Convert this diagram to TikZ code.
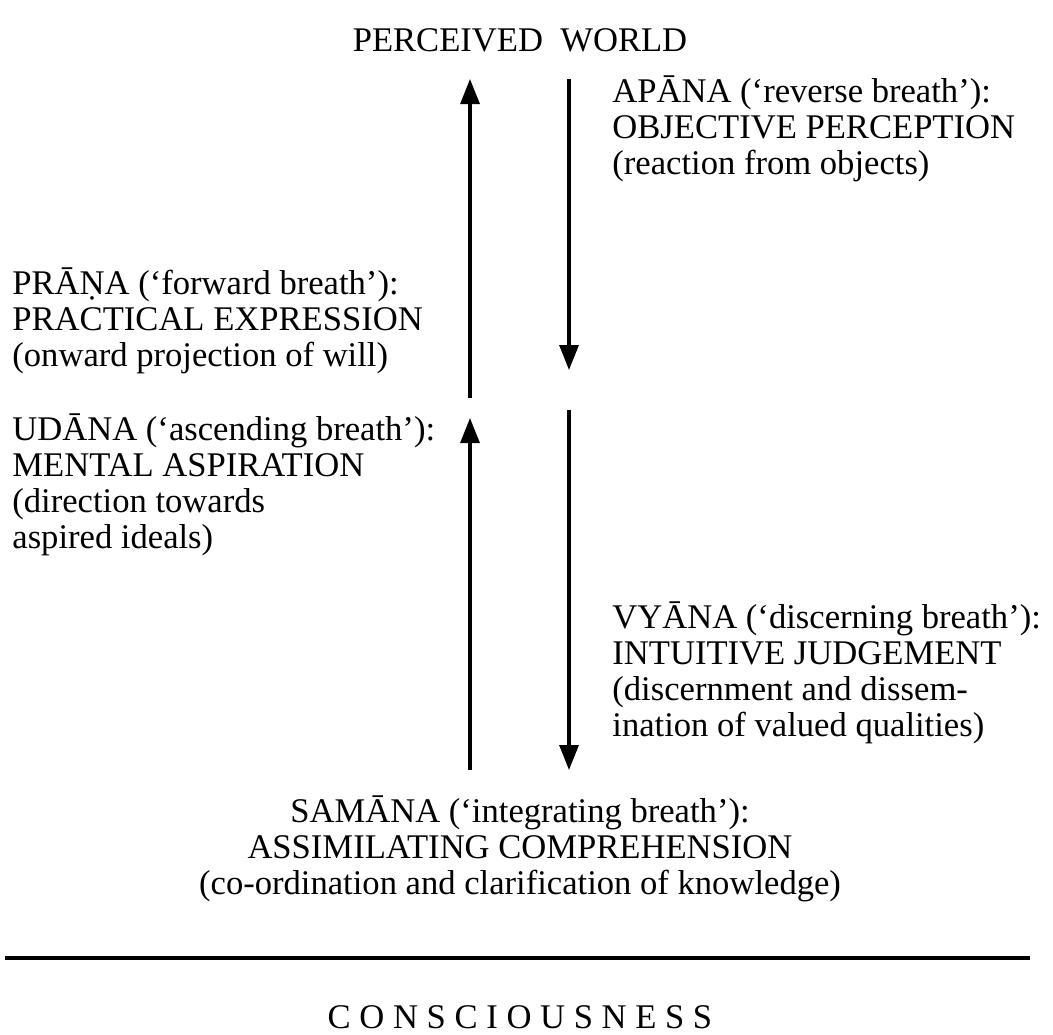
\documentclass[tikz,border=0pt]{standalone}
\usepackage{fontspec}
\setmainfont{Liberation Serif}
\usetikzlibrary{arrows.meta,positioning}

\begin{document}
\begin{tikzpicture}[x=0.5pt,y=-0.5pt,font=\fontsize{17.3}{18}\selectfont,
    >={Triangle[length=12.5pt,width=9.5pt]},
    flow/.style={line width=1.6pt,->},
    breath/.style={align=left,inner sep=0pt,anchor=north west},
    heading/.style={inner sep=0pt,anchor=base}]
  \useasboundingbox (0,0) rectangle (1053,1034);

  \node[heading] (world) at (520,51) {PERCEIVED\ \ WORLD};

  % upper pair of flows
  \coordinate (prana-s) at (470,398);
  \coordinate (prana-e) at (470,79);
  \coordinate (apana-s) at (569,79);
  \coordinate (apana-e) at (569,370);
  \draw[flow] (prana-s) -- (prana-e);
  \draw[flow] (apana-s) -- (apana-e);

  \node[breath] (apana) at (612,75)
    {APĀNA (‘reverse breath’):\\OBJECTIVE PERCEPTION\\(reaction from objects)};
  \node[breath] (prana) at (12,267)
    {PRĀṆA (‘forward breath’):\\PRACTICAL EXPRESSION\\(onward projection of will)};

  % lower pair of flows
  \coordinate (udana-s) at (470,770);
  \coordinate (udana-e) at (470,418);
  \coordinate (vyana-s) at (569,410);
  \coordinate (vyana-e) at (569,770);
  \draw[flow] (udana-s) -- (udana-e);
  \draw[flow] (vyana-s) -- (vyana-e);

  \node[breath] (udana) at (12,413)
    {UDĀNA (‘ascending breath’):\\MENTAL ASPIRATION\\(direction towards\\aspired ideals)};
  \node[breath] (vyana) at (612,601)
    {VYĀNA (‘discerning breath’):\\INTUITIVE JUDGEMENT\\(discernment and dissem-\\ination of valued qualities)};

  \node[breath,align=center,anchor=north] (samana) at (520,795)
    {SAMĀNA (‘integrating breath’):\\ASSIMILATING COMPREHENSION\\(co-ordination and clarification of knowledge)};

  \draw[line width=2pt] (5,958) -- (1030,958);

  \node[heading] (mind) at (520,1028) {C O N S C I O U S N E S S};
\end{tikzpicture}
\end{document}
